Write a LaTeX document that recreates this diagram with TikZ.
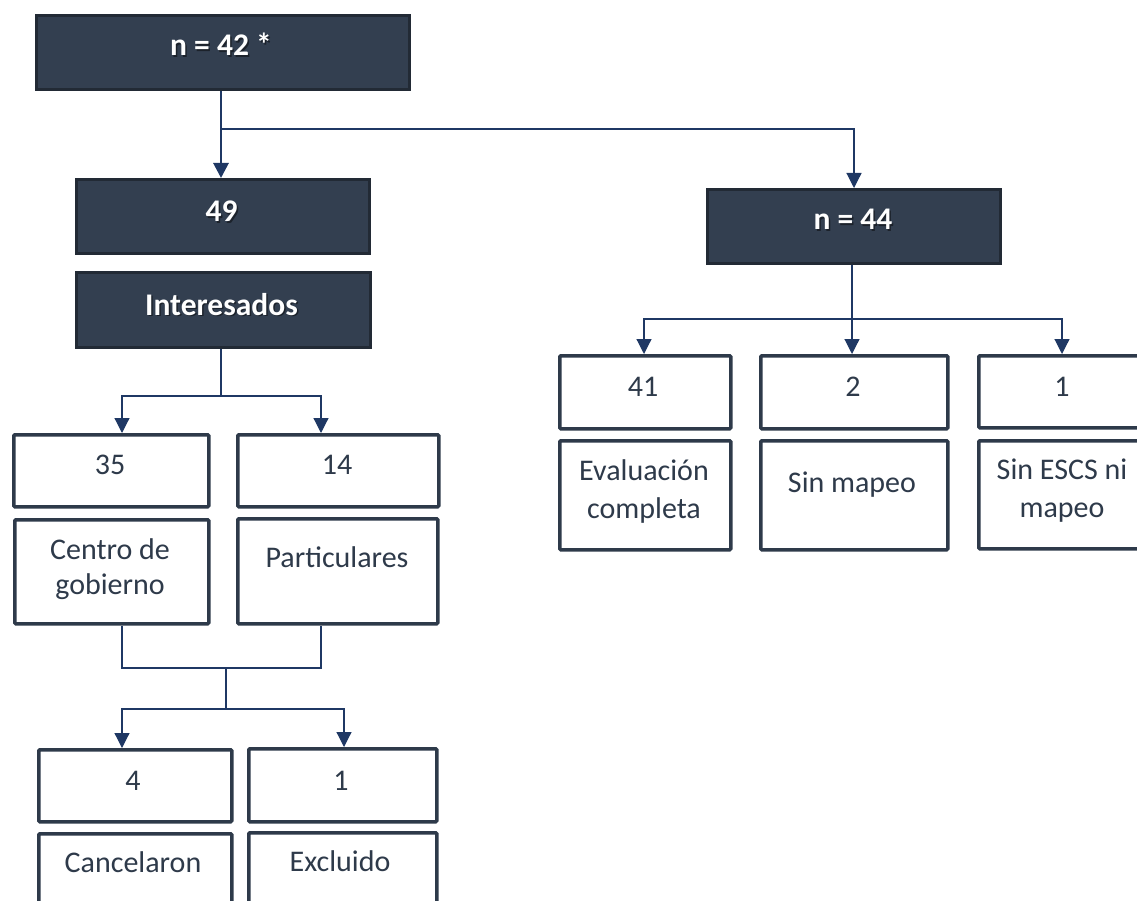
\documentclass[tikz,border=0pt]{standalone}
\usepackage{fontspec}
\setmainfont{Carlito}
\usetikzlibrary{arrows.meta}

\definecolor{slate}{HTML}{333F50}
\definecolor{slateedge}{HTML}{222A35}
\definecolor{ink}{HTML}{2E3A4A}
\definecolor{navy}{HTML}{1F3864}

\tikzset{
  darkbox/.style={draw=slateedge, fill=slate, line width=3pt, inner sep=0pt, anchor=north west},
  lightbox/.style={draw=ink, fill=white, line width=3.5pt, inner sep=0pt, anchor=north west, rounded corners=1pt},
  headtext/.style={text=white, font=\fontsize{31.5}{36}\selectfont\bfseries, anchor=base, inner sep=0pt},
  headshadow/.style={headtext, text=black, opacity=0.45},
  bodytext/.style={text=ink, font=\fontsize{30}{38}\selectfont, anchor=base, inner sep=0pt, align=center},
  link/.style={draw=navy, line width=1.2pt},
  flow/.style={link, -{Triangle[width=15pt,length=15pt]}},
}

\begin{document}
\begin{tikzpicture}[x=1pt, y=-1pt]
  \useasboundingbox (0,0) rectangle (1137,901);

  % dark header boxes
  \node[darkbox, minimum width=373pt, minimum height=74pt] (top) at (35,14) {};
  \node[darkbox, minimum width=293pt, minimum height=74pt] (b49) at (75,178) {};
  \node[darkbox, minimum width=294pt, minimum height=75pt] (inter) at (75,271) {};
  \node[darkbox, minimum width=293pt, minimum height=74pt] (n44) at (706,188) {};

  \node[headshadow] (topS) at (222.5,57.5) {n = 42 *};
  \node[headtext] (topT) at (221,56) {n = 42 *};
  \node[headshadow] (b49S) at (223,223.5) {49};
  \node[headtext] (b49T) at (221.5,222) {49};
  \node[headshadow] (interS) at (223,316.5) {Interesados};
  \node[headtext] (interT) at (221.5,315) {Interesados};
  \node[headshadow] (n44S) at (854.5,231.5) {n = 44};
  \node[headtext] (n44T) at (853,230) {n = 44};

  % left branch boxes
  \node[lightbox, minimum width=195pt, minimum height=72pt] (b35) at (12,433) {};
  \node[lightbox, minimum width=201pt, minimum height=72pt] (b14) at (236,433) {};
  \node[lightbox, minimum width=194pt, minimum height=104pt] (cg) at (13,518) {};
  \node[lightbox, minimum width=200pt, minimum height=105pt] (part) at (236,517) {};
  \node[lightbox, minimum width=193pt, minimum height=72pt] (b4) at (37,748) {};
  \node[lightbox, minimum width=188pt, minimum height=73pt] (b1a) at (247,747) {};
  \node[lightbox, minimum width=193pt, minimum height=120pt] (canc) at (37,832) {};
  \node[lightbox, minimum width=188pt, minimum height=120pt] (excl) at (247,831) {};

  % multi-line texts are placed by the baseline of their last line
  \node[bodytext] (b35T) at (110,474) {35};
  \node[bodytext] (b14T) at (337,474) {14};
  \node[bodytext] (cgT) at (110,594) {Centro de\\[-3pt]gobierno};
  \node[bodytext] (partT) at (337,567) {Particulares};
  \node[bodytext] (b4T) at (133,790) {4};
  \node[bodytext] (b1aT) at (341,790) {1};
  \node[bodytext] (cancT) at (133,872) {Cancelaron};
  \node[bodytext] (exclT) at (340,871) {Excluido};

  % right branch boxes
  \node[lightbox, minimum width=171pt, minimum height=73pt] (b41) at (558,354) {};
  \node[lightbox, minimum width=187pt, minimum height=73pt] (b2) at (759,354) {};
  \node[lightbox, minimum width=180pt, minimum height=72pt] (b1b) at (977,354) {};
  \node[lightbox, minimum width=171pt, minimum height=109pt] (eval) at (558,439) {};
  \node[lightbox, minimum width=187pt, minimum height=109pt] (sinm) at (759,439) {};
  \node[lightbox, minimum width=180pt, minimum height=108pt] (sine) at (977,439) {};

  \node[bodytext] (b41T) at (643,396) {41};
  \node[bodytext] (b2T) at (853,396) {2};
  \node[bodytext] (b1bT) at (1062,396) {1};
  \node[bodytext] (evalT) at (644,518) {Evaluación\\completa};
  \node[bodytext] (sinmT) at (852,492) {Sin mapeo};
  \node[bodytext] (sineT) at (1062,517) {Sin ESCS ni\\mapeo};

  % connectors
  \coordinate (j1) at (221,129);
  \draw[flow, line width=2.8pt] (j1 |- top.south) -- (j1 |- b49.north);
  \draw[flow] (j1) -| (n44.north);

  \coordinate (j2) at (221,396);
  \coordinate (j2l) at (122,396);
  \coordinate (j2r) at (321,396);
  \draw[link] (j2 |- inter.south) -- (j2);
  \draw[flow] (j2) -- (j2l) -- (j2l |- b35.north);
  \draw[flow] (j2) -- (j2r) -- (j2r |- b14.north);

  \coordinate (m1) at (122,668);
  \coordinate (m2) at (321,668);
  \coordinate (m3) at (226,668);
  \coordinate (m4) at (226,709);
  \coordinate (m4l) at (122,709);
  \coordinate (m4r) at (344,709);
  \draw[link] (m1 |- cg.south) -- (m1) -- (m2) -- (m2 |- part.south);
  \draw[link] (m3) -- (m4);
  \draw[flow] (m4) -- (m4l) -- (m4l |- b4.north);
  \draw[flow] (m4) -- (m4r) -- (m4r |- b1a.north);

  \coordinate (r1) at (852,319);
  \coordinate (r1l) at (644,319);
  \coordinate (r1r) at (1062,319);
  \draw[flow] (r1 |- n44.south) -- (r1 |- b2.north);
  \draw[flow] (r1) -- (r1l) -- (r1l |- b41.north);
  \draw[flow] (r1) -- (r1r) -- (r1r |- b1b.north);
\end{tikzpicture}
\end{document}
